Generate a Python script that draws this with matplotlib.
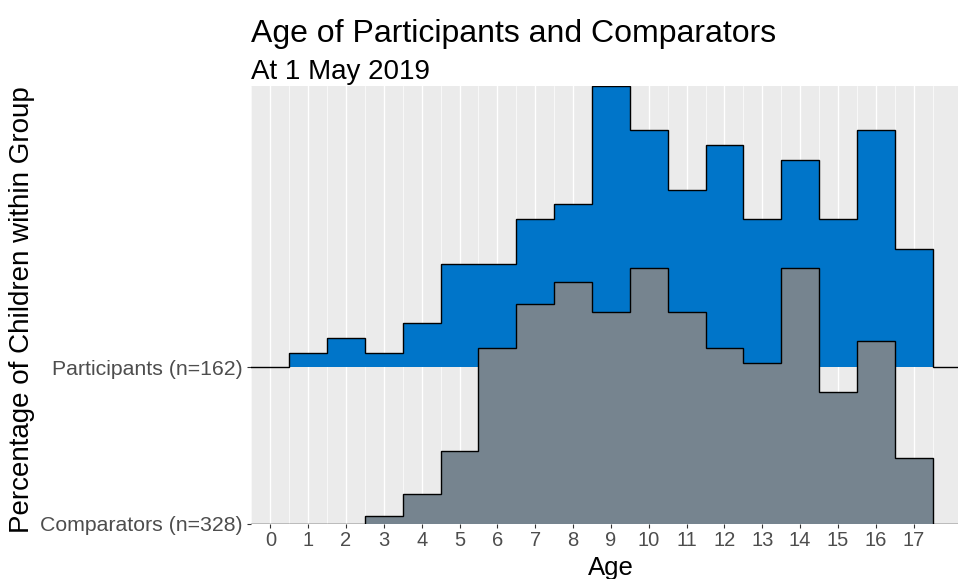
import numpy as np
import matplotlib
matplotlib.use("Agg")
import matplotlib.pyplot as plt

plt.rcParams["font.family"] = ["Liberation Sans", "DejaVu Sans"]

# ── data: number of children at each age ────────────────────────────────────
ages = np.arange(0, 18)
participants = [0, 1, 2, 1, 3, 7, 7, 10, 11, 19, 16, 12, 15, 10, 14, 10, 16, 8]
comparators = [0, 0, 0, 1, 4, 10, 24, 30, 33, 29, 35, 29, 24, 22, 35, 18, 25, 9]
groups = ["Comparators", "Participants"]
group_counts = [comparators, participants]
group_colors = ["#76848F", "#0075C9"]
SCALE = 1.8  # ridgeline scale: tallest bar spans 1.8 rows

# percentages within group
pcts = [np.array(c) / sum(c) * 100 for c in group_counts]
max_pct = max(p.max() for p in pcts)

# bin edges with one empty bin padded each side
edges = np.concatenate([[ages[0] - 1.5], ages - 0.5, [ages[-1] + 0.5, ages[-1] + 1.5]])

fig = plt.figure(figsize=(9.58, 5.79), dpi=100)
W, H = 958, 579
ax_left, ax_right = 251.4, 970.5
ax_top, ax_bot = 86.0, 523.7
ax = fig.add_axes([ax_left / W, 1 - ax_bot / H,
                   (ax_right - ax_left) / W, (ax_bot - ax_top) / H])
ax.set_facecolor("#EBEBEB")

# draw upper rows first so lower rows overlap them
for row in reversed(range(len(groups))):
    h = np.concatenate([[0], pcts[row], [0]]) / max_pct * SCALE
    ax.stairs(h + row, edges, baseline=row, fill=True,
              color=group_colors[row], linewidth=0, zorder=3 + 2 * (1 - row))
    ax.stairs(h + row, edges, baseline=row, fill=False,
              color="black", linewidth=1.0, zorder=4 + 2 * (1 - row))

ax.set_xlim(-0.5, 18.5)
ax.set_ylim(0, 1 + SCALE)

ax.set_xticks(ages)
ax.set_xticklabels([str(a) for a in ages])
ax.set_xticks(np.arange(-0.5, 18.6, 1.0), minor=True)
ax.set_yticks(range(len(groups)))
ax.set_yticklabels([f"{g} (n={sum(c)})" for g, c in zip(groups, group_counts)])

ax.grid(axis="x", which="major", color="white", linewidth=1.0, zorder=1)
ax.grid(axis="x", which="minor", color="white", linewidth=0.5, zorder=1)
ax.set_axisbelow(True)
for s in ax.spines.values():
    s.set_visible(False)

ax.tick_params(axis="both", which="major", length=2.6, width=0.8,
               color="#333333", labelcolor="#4D4D4D")
ax.tick_params(axis="x", pad=3, labelsize=14.5)
ax.tick_params(axis="y", pad=3.5, labelsize=15.3)
ax.tick_params(axis="x", which="minor", length=0)

fig.text((ax_left + ax_right) / 2 / W, 1 - 574.7 / H, "Age",
         fontsize=18.5, ha="center", va="baseline")
fig.text(22 / W, 1 - 310 / H, "Percentage of Children within Group",
         rotation=90, ha="center", va="center", fontsize=20)

fig.text(251 / W, 1 - 42 / H, "Age of Participants and Comparators",
         fontsize=23, va="baseline", ha="left")
fig.text(251 / W, 1 - 79.3 / H, "At 1 May 2019",
         fontsize=20, va="baseline", ha="left")

fig.savefig("out.png", dpi=100)
